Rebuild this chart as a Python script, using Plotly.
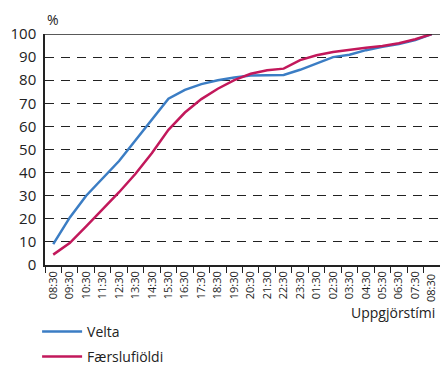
import plotly.graph_objects as go

times = ["08:30", "09:30", "10:30", "11:30", "12:30", "13:30", "14:30", "15:30",
         "16:30", "17:30", "18:30", "19:30", "20:30", "21:30", "22:30", "23:30",
         "01:30", "02:30", "03:30", "04:30", "05:30", "06:30", "07:30", "08:30 "]
velta = [9, 20.5, 30, 37.5, 45, 54, 63, 72, 75.8, 78.3, 80, 81.2, 82, 82.1, 82.3,
         84.5, 87.3, 90, 91, 93, 94.5, 95.7, 97.4, 100]
faerslur = [4.5, 9.5, 16.7, 24, 31.5, 39.5, 48.5, 58.5, 66, 71.8, 76.3, 80, 82.8,
            84.3, 85, 88.7, 90.8, 92.2, 93.2, 94, 94.8, 96, 97.7, 100]
yticks = [0, 10, 20, 30, 40, 50, 60, 70, 80, 90, 100]

FONT = "Open Sans"

fig = go.Figure()
fig.add_trace(go.Scatter(x=times, y=velta, mode="lines", name="Velta",
                         legendgroup="a",
                         line=dict(color="#3b7dc4", width=2.5)))
fig.add_trace(go.Scatter(x=times, y=faerslur, mode="lines", name="Færslufiöldi",
                         legendgroup="b",
                         line=dict(color="#c2185b", width=2.5)))

fig.update_layout(
    width=440, height=365,
    margin=dict(l=45, r=0, t=34, b=100, autoexpand=False),
    paper_bgcolor="white", plot_bgcolor="white",
    font=dict(family=FONT, color="#222", size=14),
    showlegend=True,
    legend=dict(x=-0.02, xanchor="left", xref="paper", y=-0.22, yanchor="top",
                orientation="v", tracegroupgap=4, traceorder="grouped",
                font=dict(family=FONT, size=14, color="#222"),
                itemwidth=40, bgcolor="rgba(0,0,0,0)"),
    xaxis=dict(
        type="category", tickson="boundaries", ticks="outside", ticklen=6,
        tickcolor="#222", tickwidth=1, tickangle=-90, automargin=False,
        tickfont=dict(family=FONT, size=11, color="#222"),
        showline=True, linecolor="#222", linewidth=1.5,
        showgrid=False, zeroline=False, range=[-0.5, 23.5],
    ),
    yaxis=dict(
        range=[0, 100], tickvals=yticks, showline=True, linecolor="#222", linewidth=1.5,
        ticks="", tickfont=dict(family=FONT, size=15, color="#222"), automargin=False,
        showgrid=True, gridcolor="#222", gridwidth=1.3, griddash="9px,7px",
        zeroline=False, ticklabelstandoff=4,
    ),
    annotations=[
        dict(text="%", x=0.0, xref="paper", y=1.0, yref="paper", xanchor="left",
             yanchor="bottom", yshift=3, showarrow=False,
             font=dict(family=FONT, size=14, color="#222")),
        dict(text="Uppgjörstími", x=1.0, xref="paper", y=0, yref="paper",
             xanchor="right", yanchor="middle", yshift=-47, xshift=-3, showarrow=False,
             font=dict(family=FONT, size=14, color="#222")),
    ],
    shapes=[dict(type="line", xref="paper", yref="y", x0=0, x1=1, y0=100, y1=100,
                 line=dict(color="#222", width=1.5))],
)

fig.write_html(
    "out.html",
    config={"displayModeBar": False},
    post_script="document.body.style.margin='0';document.body.style.overflow='hidden';",
)
